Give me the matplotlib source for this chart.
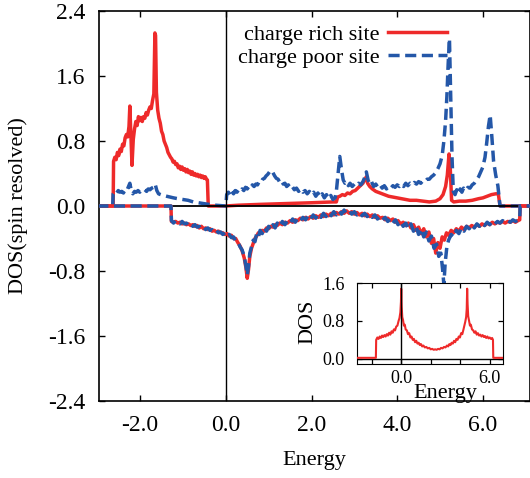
import matplotlib
matplotlib.use("Agg")
import matplotlib.pyplot as plt
from matplotlib.ticker import FormatStrFormatter

plt.rcParams["font.family"] = ["Liberation Serif", "DejaVu Serif"]
plt.rcParams["axes.unicode_minus"] = False

RED = "#ee2a2a"
BLUE = "#2457a8"

# spin-up, charge rich site (energy, dos)
rich_up = [
    (-3.0, 0), (-2.63, 0), (-2.62, 0.55), (-2.59, 0.60), (-2.56, 0.57), (-2.53, 0.66), (-2.50, 0.62),
    (-2.47, 0.70), (-2.44, 0.67), (-2.41, 0.76), (-2.38, 0.74), (-2.35, 0.84), (-2.32, 0.88), (-2.29, 0.85),
    (-2.26, 0.98), (-2.24, 1.23), (-2.22, 0.95), (-2.19, 0.50), (-2.16, 0.82), (-2.13, 0.95), (-2.10, 1.04),
    (-2.07, 0.99), (-2.04, 1.10), (-2.01, 1.05), (-1.98, 1.09), (-1.95, 1.04), (-1.92, 1.10), (-1.89, 1.08),
    (-1.86, 1.15), (-1.83, 1.12), (-1.80, 1.18), (-1.77, 1.22), (-1.74, 1.20), (-1.71, 1.30), (-1.68, 1.38),
    (-1.655, 2.13), (-1.64, 2.10), (-1.62, 1.40), (-1.59, 1.18), (-1.56, 1.08), (-1.53, 1.02), (-1.50, 0.92),
    (-1.47, 0.88), (-1.44, 0.80), (-1.41, 0.76), (-1.38, 0.72), (-1.35, 0.66), (-1.32, 0.63), (-1.29, 0.60),
    (-1.26, 0.58), (-1.23, 0.54), (-1.20, 0.55), (-1.17, 0.51), (-1.14, 0.52), (-1.11, 0.47), (-1.08, 0.49),
    (-1.05, 0.45), (-1.02, 0.48), (-0.99, 0.44), (-0.96, 0.46), (-0.93, 0.42), (-0.90, 0.45), (-0.87, 0.41),
    (-0.84, 0.43), (-0.81, 0.39), (-0.78, 0.42), (-0.75, 0.38), (-0.72, 0.40), (-0.69, 0.37), (-0.66, 0.39),
    (-0.63, 0.36), (-0.60, 0.38), (-0.57, 0.35), (-0.54, 0.37), (-0.51, 0.34), (-0.48, 0.36), (-0.45, 0.33),
    (-0.43, 0.32), (-0.41, 0.0), (0.0, 0.0), (0.3, 0.01), (0.8, 0.02), (1.4, 0.03), (2.0, 0.04), (2.5, 0.05),
    (2.58, 0.05), (2.61, 0.11), (2.66, 0.12), (2.72, 0.14), (2.78, 0.13), (2.84, 0.16), (2.90, 0.15),
    (2.96, 0.18), (3.02, 0.19), (3.08, 0.22), (3.14, 0.25), (3.20, 0.28), (3.25, 0.33), (3.28, 0.36),
    (3.31, 0.28), (3.36, 0.24), (3.42, 0.21), (3.50, 0.18), (3.60, 0.16), (3.70, 0.14), (3.80, 0.12),
    (3.90, 0.11), (4.00, 0.10), (4.10, 0.09), (4.20, 0.08), (4.30, 0.07), (4.45, 0.07), (4.60, 0.06),
    (4.75, 0.05), (4.90, 0.06), (5.00, 0.09), (5.07, 0.14), (5.13, 0.24), (5.17, 0.38), (5.21, 0.64),
    (5.24, 0.45), (5.27, 0.07), (5.32, 0.05), (5.45, 0.06), (5.60, 0.06), (5.75, 0.07), (5.90, 0.09),
    (6.00, 0.10), (6.10, 0.12), (6.20, 0.14), (6.30, 0.15), (6.36, 0.15), (6.40, 0.0), (7.1, 0.0),
]

# spin-up, charge poor site
poor_up = [
    (-3.0, 0), (-2.64, 0), (-2.63, 0.15), (-2.59, 0.18), (-2.55, 0.16), (-2.51, 0.19), (-2.47, 0.17),
    (-2.43, 0.18), (-2.39, 0.16), (-2.35, 0.20), (-2.31, 0.19), (-2.27, 0.24), (-2.24, 0.28), (-2.21, 0.20),
    (-2.17, 0.15), (-2.13, 0.18), (-2.09, 0.17), (-2.05, 0.19), (-2.01, 0.17), (-1.97, 0.19), (-1.93, 0.18),
    (-1.89, 0.20), (-1.85, 0.18), (-1.81, 0.21), (-1.77, 0.20), (-1.73, 0.22), (-1.69, 0.23), (-1.65, 0.27),
    (-1.61, 0.19), (-1.57, 0.15), (-1.52, 0.14), (-1.45, 0.13), (-1.38, 0.12), (-1.30, 0.11), (-1.22, 0.10),
    (-1.12, 0.09), (-1.0, 0.08), (-0.88, 0.07), (-0.76, 0.05), (-0.64, 0.04), (-0.52, 0.03), (-0.40, 0.02),
    (-0.25, 0.01), (0.0, 0.0), (0.02, 0.14), (0.06, 0.17), (0.10, 0.13), (0.14, 0.18), (0.18, 0.15),
    (0.22, 0.19), (0.26, 0.17), (0.30, 0.20), (0.34, 0.18), (0.38, 0.21), (0.42, 0.19), (0.46, 0.23),
    (0.50, 0.21), (0.54, 0.24), (0.58, 0.22), (0.62, 0.26), (0.66, 0.24), (0.70, 0.27), (0.74, 0.26),
    (0.78, 0.30), (0.82, 0.29), (0.86, 0.33), (0.90, 0.34), (0.94, 0.37), (0.98, 0.39), (1.02, 0.42),
    (1.06, 0.44), (1.10, 0.41), (1.14, 0.37), (1.18, 0.34), (1.22, 0.33), (1.26, 0.29), (1.30, 0.31),
    (1.34, 0.27), (1.38, 0.28), (1.42, 0.24), (1.46, 0.26), (1.50, 0.22), (1.55, 0.24), (1.60, 0.20),
    (1.65, 0.22), (1.70, 0.18), (1.75, 0.21), (1.80, 0.17), (1.85, 0.19), (1.90, 0.15), (1.95, 0.18),
    (2.00, 0.14), (2.05, 0.17), (2.10, 0.12), (2.15, 0.16), (2.20, 0.11), (2.25, 0.15), (2.30, 0.10),
    (2.35, 0.14), (2.40, 0.09), (2.45, 0.13), (2.50, 0.08), (2.55, 0.10), (2.58, 0.18), (2.62, 0.40),
    (2.66, 0.61), (2.70, 0.45), (2.74, 0.32), (2.78, 0.28), (2.82, 0.30), (2.86, 0.25), (2.90, 0.28),
    (2.95, 0.24), (3.00, 0.27), (3.05, 0.25), (3.10, 0.28), (3.15, 0.26), (3.20, 0.30), (3.25, 0.36),
    (3.28, 0.42), (3.32, 0.32), (3.36, 0.27), (3.40, 0.30), (3.45, 0.24), (3.50, 0.27), (3.55, 0.23),
    (3.60, 0.26), (3.65, 0.22), (3.70, 0.25), (3.75, 0.21), (3.80, 0.24), (3.85, 0.22), (3.90, 0.25),
    (3.95, 0.23), (4.00, 0.26), (4.05, 0.24), (4.10, 0.27), (4.15, 0.24), (4.20, 0.28), (4.25, 0.25),
    (4.30, 0.28), (4.35, 0.26), (4.40, 0.29), (4.45, 0.27), (4.50, 0.30), (4.55, 0.28), (4.60, 0.31),
    (4.65, 0.30), (4.70, 0.33), (4.75, 0.33), (4.80, 0.36), (4.85, 0.38), (4.90, 0.41), (4.95, 0.46),
    (5.00, 0.52), (5.05, 0.62), (5.09, 0.80), (5.13, 1.05), (5.16, 1.35), (5.19, 1.75), (5.22, 2.06),
    (5.25, 1.30), (5.28, 0.60), (5.31, 0.18), (5.35, 0.14), (5.39, 0.20), (5.43, 0.15), (5.47, 0.21),
    (5.51, 0.17), (5.55, 0.22), (5.60, 0.19), (5.65, 0.23), (5.70, 0.22), (5.75, 0.26), (5.80, 0.28),
    (5.85, 0.32), (5.90, 0.36), (5.95, 0.42), (6.00, 0.48), (6.05, 0.60), (6.09, 0.78), (6.13, 0.98),
    (6.17, 1.12), (6.21, 0.85), (6.25, 0.55), (6.30, 0.38), (6.35, 0.25), (6.40, 0.0), (7.1, 0.0),
]

# spin-down, charge rich site
rich_dn = [
    (-3.0, 0), (-1.28, 0), (-1.27, -0.19), (-1.22, -0.20), (-1.17, -0.19), (-1.12, -0.21), (-1.07, -0.20),
    (-1.02, -0.22), (-0.97, -0.21), (-0.92, -0.23), (-0.87, -0.22), (-0.82, -0.24), (-0.77, -0.23),
    (-0.72, -0.25), (-0.67, -0.24), (-0.62, -0.27), (-0.57, -0.25), (-0.52, -0.28), (-0.47, -0.27),
    (-0.42, -0.29), (-0.37, -0.28), (-0.32, -0.31), (-0.27, -0.30), (-0.22, -0.32), (-0.17, -0.31),
    (-0.12, -0.33), (-0.07, -0.33), (-0.02, -0.35), (0.03, -0.34), (0.08, -0.37), (0.13, -0.36),
    (0.18, -0.40), (0.23, -0.40), (0.28, -0.45), (0.33, -0.49), (0.38, -0.55), (0.43, -0.64), (0.47, -0.76),
    (0.50, -0.89), (0.53, -0.78), (0.56, -0.62), (0.60, -0.52), (0.64, -0.46), (0.68, -0.40), (0.72, -0.37),
    (0.76, -0.33), (0.80, -0.34), (0.85, -0.30), (0.90, -0.31), (0.95, -0.27), (1.00, -0.28), (1.05, -0.25),
    (1.10, -0.26), (1.15, -0.23), (1.20, -0.24), (1.26, -0.21), (1.32, -0.23), (1.38, -0.20), (1.44, -0.21),
    (1.50, -0.18), (1.56, -0.20), (1.62, -0.17), (1.68, -0.18), (1.74, -0.15), (1.80, -0.17), (1.86, -0.14),
    (1.92, -0.16), (1.98, -0.13), (2.04, -0.15), (2.10, -0.12), (2.16, -0.14), (2.22, -0.11), (2.28, -0.13),
    (2.34, -0.10), (2.40, -0.12), (2.46, -0.09), (2.52, -0.11), (2.58, -0.08), (2.64, -0.10), (2.70, -0.07),
    (2.76, -0.09), (2.82, -0.06), (2.88, -0.09), (2.94, -0.07), (3.00, -0.10), (3.06, -0.08), (3.12, -0.11),
    (3.18, -0.09), (3.24, -0.12), (3.30, -0.10), (3.36, -0.13), (3.42, -0.11), (3.48, -0.14), (3.54, -0.12),
    (3.60, -0.15), (3.66, -0.14), (3.72, -0.17), (3.78, -0.15), (3.84, -0.18), (3.90, -0.16), (3.96, -0.20),
    (4.02, -0.18), (4.08, -0.22), (4.14, -0.20), (4.20, -0.24), (4.26, -0.21), (4.32, -0.27), (4.38, -0.23),
    (4.44, -0.30), (4.50, -0.26), (4.56, -0.34), (4.62, -0.28), (4.68, -0.38), (4.74, -0.32), (4.80, -0.46),
    (4.85, -0.40), (4.90, -0.58), (4.95, -0.45), (5.00, -0.52), (5.05, -0.38), (5.10, -0.42), (5.15, -0.33),
    (5.20, -0.36), (5.26, -0.30), (5.32, -0.33), (5.38, -0.28), (5.44, -0.31), (5.50, -0.26), (5.56, -0.29),
    (5.62, -0.25), (5.68, -0.27), (5.74, -0.24), (5.80, -0.26), (5.86, -0.23), (5.92, -0.25), (5.98, -0.22),
    (6.04, -0.24), (6.10, -0.21), (6.16, -0.23), (6.22, -0.20), (6.28, -0.22), (6.34, -0.20), (6.40, -0.21),
    (6.46, -0.19), (6.52, -0.21), (6.58, -0.19), (6.64, -0.20), (6.70, -0.18), (6.76, -0.20), (6.82, -0.18),
    (6.86, -0.17), (6.87, 0.0), (7.1, 0.0),
]

# spin-down, charge poor site
poor_dn = [
    (-3.0, 0), (-1.28, 0), (-1.27, -0.18), (-1.22, -0.21), (-1.17, -0.18), (-1.12, -0.20), (-1.07, -0.22),
    (-1.02, -0.19), (-0.97, -0.22), (-0.92, -0.21), (-0.87, -0.24), (-0.82, -0.22), (-0.77, -0.25),
    (-0.72, -0.23), (-0.67, -0.26), (-0.62, -0.25), (-0.57, -0.28), (-0.52, -0.26), (-0.47, -0.29),
    (-0.42, -0.27), (-0.37, -0.30), (-0.32, -0.29), (-0.27, -0.32), (-0.22, -0.30), (-0.17, -0.33),
    (-0.12, -0.32), (-0.07, -0.35), (-0.02, -0.33), (0.03, -0.37), (0.08, -0.35), (0.13, -0.39),
    (0.18, -0.38), (0.23, -0.43), (0.28, -0.44), (0.33, -0.50), (0.38, -0.54), (0.43, -0.62), (0.47, -0.74),
    (0.50, -0.85), (0.53, -0.74), (0.56, -0.58), (0.60, -0.50), (0.64, -0.42), (0.68, -0.44), (0.72, -0.34),
    (0.76, -0.38), (0.80, -0.30), (0.85, -0.34), (0.90, -0.27), (0.95, -0.31), (1.00, -0.25), (1.05, -0.29),
    (1.10, -0.23), (1.15, -0.27), (1.20, -0.21), (1.26, -0.25), (1.32, -0.19), (1.38, -0.23), (1.44, -0.18),
    (1.50, -0.21), (1.56, -0.16), (1.62, -0.20), (1.68, -0.15), (1.74, -0.18), (1.80, -0.14), (1.86, -0.17),
    (1.92, -0.12), (1.98, -0.16), (2.04, -0.11), (2.10, -0.15), (2.16, -0.10), (2.22, -0.14), (2.28, -0.09),
    (2.34, -0.13), (2.40, -0.08), (2.46, -0.12), (2.52, -0.07), (2.58, -0.11), (2.64, -0.06), (2.70, -0.10),
    (2.76, -0.05), (2.82, -0.09), (2.88, -0.06), (2.94, -0.10), (3.00, -0.07), (3.06, -0.11), (3.12, -0.08),
    (3.18, -0.12), (3.24, -0.09), (3.30, -0.13), (3.36, -0.10), (3.42, -0.14), (3.48, -0.11), (3.54, -0.16),
    (3.60, -0.13), (3.66, -0.17), (3.72, -0.14), (3.78, -0.19), (3.84, -0.16), (3.90, -0.21), (3.96, -0.17),
    (4.02, -0.23), (4.08, -0.19), (4.14, -0.25), (4.20, -0.21), (4.26, -0.28), (4.32, -0.22), (4.38, -0.31),
    (4.44, -0.25), (4.50, -0.35), (4.56, -0.28), (4.62, -0.38), (4.68, -0.32), (4.74, -0.43), (4.80, -0.37),
    (4.86, -0.52), (4.92, -0.47), (4.97, -0.62), (5.02, -0.58), (5.06, -0.78), (5.09, -0.97), (5.12, -0.70),
    (5.16, -0.50), (5.20, -0.42), (5.26, -0.35), (5.32, -0.38), (5.38, -0.30), (5.44, -0.34), (5.50, -0.27),
    (5.56, -0.31), (5.62, -0.25), (5.68, -0.28), (5.74, -0.23), (5.80, -0.27), (5.86, -0.22), (5.92, -0.25),
    (5.98, -0.21), (6.04, -0.24), (6.10, -0.20), (6.16, -0.23), (6.22, -0.19), (6.28, -0.22), (6.34, -0.19),
    (6.40, -0.21), (6.46, -0.18), (6.52, -0.20), (6.58, -0.18), (6.64, -0.20), (6.70, -0.17), (6.76, -0.19),
    (6.82, -0.17), (6.86, -0.16), (6.87, 0.0), (7.1, 0.0),
]

# inset: total DOS
total_dos = [
    (-3.0, 0.02), (-1.72, 0.02), (-1.70, 0.40), (-1.62, 0.45), (-1.54, 0.42), (-1.46, 0.47), (-1.38, 0.44),
    (-1.30, 0.49), (-1.22, 0.46), (-1.14, 0.50), (-1.06, 0.47), (-0.98, 0.52), (-0.90, 0.49), (-0.82, 0.55),
    (-0.74, 0.51), (-0.66, 0.58), (-0.58, 0.55), (-0.50, 0.62), (-0.42, 0.60), (-0.34, 0.68), (-0.26, 0.70),
    (-0.18, 0.80), (-0.12, 0.86), (-0.06, 0.98), (-0.02, 1.20), (0.00, 1.48), (0.03, 1.10), (0.07, 0.88),
    (0.12, 0.82), (0.18, 0.70), (0.24, 0.72), (0.30, 0.62), (0.38, 0.60), (0.46, 0.52), (0.54, 0.54),
    (0.62, 0.45), (0.70, 0.47), (0.78, 0.40), (0.86, 0.42), (0.94, 0.35), (1.02, 0.38), (1.10, 0.32),
    (1.18, 0.34), (1.26, 0.29), (1.34, 0.31), (1.42, 0.26), (1.50, 0.28), (1.60, 0.24), (1.70, 0.25),
    (1.80, 0.22), (1.90, 0.23), (2.00, 0.20), (2.10, 0.21), (2.20, 0.19), (2.30, 0.20), (2.40, 0.19),
    (2.50, 0.21), (2.60, 0.20), (2.70, 0.23), (2.80, 0.22), (2.90, 0.25), (3.00, 0.24), (3.10, 0.28),
    (3.18, 0.26), (3.26, 0.31), (3.34, 0.29), (3.42, 0.34), (3.50, 0.32), (3.58, 0.38), (3.66, 0.35),
    (3.74, 0.42), (3.82, 0.40), (3.90, 0.47), (3.98, 0.45), (4.06, 0.54), (4.14, 0.52), (4.22, 0.62),
    (4.28, 0.70), (4.34, 0.78), (4.40, 0.88), (4.44, 1.05), (4.47, 1.48), (4.50, 1.15), (4.54, 0.90),
    (4.60, 0.80), (4.66, 0.70), (4.72, 0.72), (4.80, 0.62), (4.88, 0.60), (4.96, 0.55), (5.04, 0.58),
    (5.12, 0.51), (5.20, 0.54), (5.28, 0.49), (5.36, 0.51), (5.44, 0.47), (5.52, 0.50), (5.60, 0.46),
    (5.68, 0.48), (5.76, 0.44), (5.84, 0.47), (5.92, 0.43), (6.00, 0.45), (6.08, 0.42), (6.16, 0.44),
    (6.22, 0.40), (6.24, 0.02), (6.9, 0.02),
]

main_xticks = [-2.0, 0.0, 2.0, 4.0, 6.0]
main_yticks = [-2.4, -1.6, -0.8, 0.0, 0.8, 1.6, 2.4]
inset_xticks = [0.0, 6.0]
inset_xminor = [-2.0, 2.0, 4.0]
inset_yticks = [0.0, 0.8, 1.6]


def unzip(pairs):
    return [p[0] for p in pairs], [p[1] for p in pairs]


fig = plt.figure(figsize=(5.30, 4.78), dpi=100)
ax = fig.add_axes([99 / 530, 77 / 478, 431 / 530, 390 / 478])

dash = (3.2, 1.6)
lw = 2.5
e, d = unzip(rich_up)
ax.plot(e, d, color=RED, lw=lw, label="charge rich site", zorder=3)
e, d = unzip(poor_up)
ax.plot(e, d, color=BLUE, lw=lw, dashes=dash, label="charge poor site", zorder=3)
ax.axhline(0, color="black", lw=1.3, zorder=4)
ax.axvline(0, color="black", lw=1.0, zorder=4)
e, d = unzip(rich_dn)
ax.plot(e, d, color=RED, lw=lw, zorder=5)
e, d = unzip(poor_dn)
ax.plot(e, d, color=BLUE, lw=lw, dashes=dash, zorder=5)

ax.set_xlim(-2.96, 7.1)
ax.set_ylim(-2.4, 2.4)
ax.set_xticks(main_xticks)
ax.set_yticks(main_yticks)
ax.xaxis.set_major_formatter(FormatStrFormatter("%.1f"))
ax.yaxis.set_major_formatter(FormatStrFormatter("%.1f"))
ax.tick_params(direction="in", length=4.5, width=1, top=True, right=True,
               labelsize=17, pad=10)
for s in ax.spines.values():
    s.set_linewidth(1.2)
ax.set_xlabel("Energy", fontsize=16, labelpad=11)
ax.set_ylabel("DOS(spin resolved)", fontsize=16, labelpad=14)

ax.legend(loc="upper right", bbox_to_anchor=(447 / 530, 454 / 478),
          bbox_transform=fig.transFigure, frameon=False, markerfirst=False,
          fontsize=16, handlelength=2.65, handletextpad=0.4, borderpad=0,
          labelspacing=0.12, borderaxespad=0)

# inset
ins = fig.add_axes([357 / 530, 114 / 478, 146 / 530, 81 / 478])
e, d = unzip(total_dos)
ins.plot(e, d, color=RED, lw=1.5, zorder=3)
ins.axhline(0, color="black", lw=1.0, zorder=2)
ins.axvline(0, color="black", lw=1.0, zorder=4)
ins.set_xlim(-3.0, 6.9)
ins.set_ylim(-0.11, 1.6)
ins.set_xticks(inset_xticks)
ins.set_xticks(inset_xminor, minor=True)
ins.set_yticks(inset_yticks)
ins.xaxis.set_major_formatter(FormatStrFormatter("%.1f"))
ins.yaxis.set_major_formatter(FormatStrFormatter("%.1f"))
ins.tick_params(which="both", direction="in", length=3.5, width=0.9, top=True, right=True,
                labelsize=13)
ins.tick_params(axis="y", pad=9)
ins.tick_params(axis="x", pad=4)
ins.text(0.603, -0.37, "Energy", transform=ins.transAxes, fontsize=16,
         ha="center", va="center")
ins.text(-0.336, 0.52, "DOS", transform=ins.transAxes, fontsize=16,
         ha="center", va="center", rotation=90)

fig.savefig("out.png", dpi=100)
